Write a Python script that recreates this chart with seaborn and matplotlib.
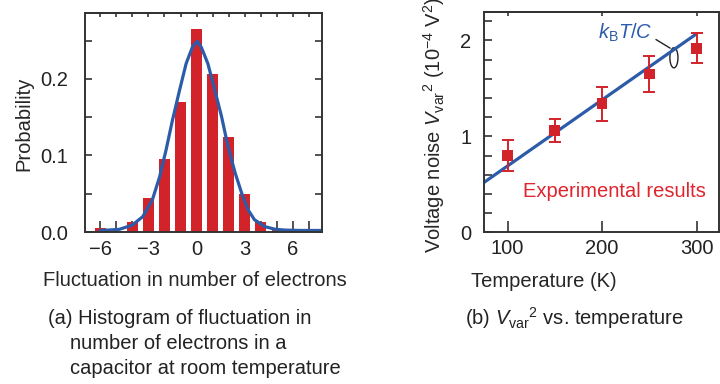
import numpy as np
import matplotlib
matplotlib.use("Agg")
import matplotlib.pyplot as plt
from matplotlib.ticker import MultipleLocator
from matplotlib.patches import Arc
import seaborn as sns

sns.set_theme(style="ticks")
plt.rcParams['font.family'] = ['Liberation Sans', 'DejaVu Sans']
plt.rcParams['mathtext.fontset'] = 'custom'
plt.rcParams['mathtext.rm'] = 'Liberation Sans'
plt.rcParams['mathtext.it'] = 'Liberation Sans:italic'
plt.rcParams['axes.edgecolor'] = '#333333'
plt.rcParams['xtick.color'] = '#333333'
plt.rcParams['ytick.color'] = '#333333'
plt.rcParams['xtick.labelcolor'] = '#222222'
plt.rcParams['ytick.labelcolor'] = '#222222'

RED = '#d2232b'
BLUE = '#2c5ca9'
FS = 14.5

# (a) histogram of electron-number fluctuation
hist_n = [-6, -5, -4, -3, -2, -1, 0, 1, 2, 3, 4, 5, 6, 7]
hist_p = [0.005, 0.0, 0.0135, 0.045, 0.095, 0.17, 0.265, 0.2065, 0.124, 0.050, 0.013, 0.002, 0.002, 0.002]

# fitted curve
curve_n = [-6, -5.5, -4.8, -4, -3.35, -2.75, -2.3, -1.9, -1.5, -1.05, -0.65, -0.25, 0.05,
           0.3, 0.7, 1.1, 1.55, 1.95, 2.4, 2.8, 3.2, 3.6, 4.25, 4.9, 5.5, 6.5, 7.8]
curve_p = [0.002, 0.0025, 0.0035, 0.009, 0.020, 0.042, 0.072, 0.107, 0.146, 0.186, 0.220, 0.242, 0.249,
           0.241, 0.220, 0.188, 0.151, 0.112, 0.077, 0.051, 0.029, 0.016, 0.007, 0.0035, 0.0025, 0.002, 0.002]

# (b) voltage noise vs temperature
temp_K = [100, 150, 200, 250, 300]
vvar2 = [0.80, 1.06, 1.34, 1.65, 1.92]
vvar2_err = [0.16, 0.12, 0.18, 0.19, 0.155]
fit_T = [75, 300]
fit_V = [0.52, 2.07]

fig = plt.figure(figsize=(7.2, 3.84), dpi=100)
W, H = 720, 384

# ---- panel (a)
ax1 = fig.add_axes([85 / W, 1 - 232 / H, 237 / W, 219 / H])
sns.barplot(x=hist_n, y=hist_p, native_scale=True, color=RED, saturation=1,
            width=0.68, errorbar=None, edgecolor='none', ax=ax1)
sns.lineplot(x=curve_n, y=curve_p, color=BLUE, lw=2.3, ax=ax1)
ax1.set_xlim(-6.94, 7.8)
ax1.set_ylim(0, 0.286)
ax1.set_xticks([-6, -3, 0, 3, 6])
ax1.set_xticklabels(['\u22126', '\u22123', '0', '3', '6'])
ax1.xaxis.set_minor_locator(MultipleLocator(1))
ax1.set_yticks([0, 0.1, 0.2])
ax1.set_yticklabels(['0.0', '0.1', '0.2'])
ax1.yaxis.set_minor_locator(MultipleLocator(0.05))
ax1.tick_params(axis='x', which='both', direction='in', length=8, width=1.2, pad=6, labelsize=FS)
ax1.tick_params(axis='y', which='both', direction='in', length=5, width=1.2, pad=12,
                right=True, labelsize=FS)
top1 = ax1.secondary_xaxis('top')
top1.set_xticks(hist_n)
top1.tick_params(direction='in', length=3, width=1.2, labeltop=False)
top1.spines['top'].set_linewidth(1.4)
ax1.set_xlabel('Fluctuation in number of electrons', fontsize=FS)
ax1.set_ylabel('Probability', fontsize=FS)
ax1.xaxis.set_label_coords(0.462, -0.18)
ax1.yaxis.set_label_coords(-0.219, 0.493)
for s in ax1.spines.values():
    s.set_linewidth(1.4)

# ---- panel (b)
ax2 = fig.add_axes([484 / W, 1 - 232.3 / H, 235 / W, 220.6 / H])
sns.lineplot(x=fit_T, y=fit_V, color=BLUE, lw=2.3, ax=ax2)
ax2.errorbar(temp_K, vvar2, yerr=vvar2_err, fmt='none', ecolor=RED,
             elinewidth=1.4, capsize=4.5, capthick=1.4, zorder=3)
sns.scatterplot(x=temp_K, y=vvar2, marker='s', s=60, color=RED, edgecolor='none',
                zorder=4, ax=ax2)
ax2.set_xlim(75, 323.7)
ax2.set_ylim(0, 2.3)
ax2.set_xticks([100, 200, 300])
ax2.set_yticks([0, 1, 2])
ax2.yaxis.set_minor_locator(MultipleLocator(0.2))
ax2.tick_params(axis='x', which='both', direction='in', length=8, width=1.2, pad=5, labelsize=FS)
ax2.tick_params(axis='y', which='both', direction='in', length=6, width=1.2, pad=9, labelsize=FS)
top2 = ax2.secondary_xaxis('top')
top2.set_xticks([100, 200, 300])
top2.tick_params(direction='in', length=3, width=1.2, labeltop=False)
top2.spines['top'].set_linewidth(1.4)
ax2.set_xlabel('Temperature (K)', fontsize=FS)
ax2.set_ylabel(r'Voltage noise $V_{\mathrm{var}}{}^{2}$ (10$^{-4}$ V$^{2}$)', fontsize=FS)
ax2.xaxis.set_label_coords(0.253, -0.18)
ax2.yaxis.set_label_coords(-0.157, 0.486)
for s in ax2.spines.values():
    s.set_linewidth(1.4)

ax2.text(195.6, 2.08, r'$k_{\mathrm{B}}T/C$', color=BLUE, fontsize=FS, ha='left', va='center')
ax2.plot([257, 272], [2.01, 1.92], color='#222222', lw=1.0)
ax2.add_patch(Arc((276, 1.82), 8.5, 0.21, theta1=120, theta2=420, color='#222222', lw=1.0))
ax2.text(116, 0.43, 'Experimental results', color='#e0252e', fontsize=FS, ha='left', va='center')

# ---- captions
fig.text(48 / W, 1 - 318 / H, '(a) Histogram of fluctuation in', fontsize=FS, va='center', color='#222222')
fig.text(70 / W, 1 - 343.5 / H, 'number of electrons in a', fontsize=FS, va='center', color='#222222')
fig.text(70 / W, 1 - 369 / H, 'capacitor at room temperature', fontsize=FS, va='center', color='#222222')
fig.text(465 / W, 1 - 318 / H, r'(b) $V_{\mathrm{var}}{}^{2}$ vs. temperature', fontsize=FS,
         va='center', color='#222222')

fig.savefig('out.png', dpi=100)
